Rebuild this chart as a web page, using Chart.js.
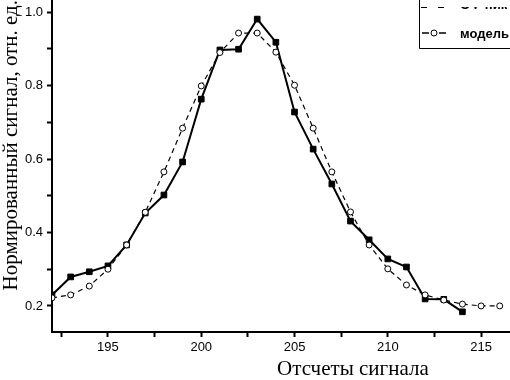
<!DOCTYPE html>
<html>
<head>
<meta charset="utf-8">
<script src="https://cdn.jsdelivr.net/npm/chart.js@4.4.1/dist/chart.umd.min.js"></script>
<style>
  body { margin: 0; background: #fff; }
  canvas { display: block; }
</style>
</head>
<body>
<canvas id="chart" width="510" height="380"></canvas>
<script>
// отсчеты и значения
const samples = [192, 193, 194, 195, 196, 197, 198, 199, 200, 201, 202, 203, 204,
                 205, 206, 207, 208, 209, 210, 211, 212, 213, 214, 215, 216];
const peakValues = [0.230, 0.279, 0.293, 0.309, 0.366, 0.453, 0.502, 0.592, 0.763, 0.897, 0.899, 0.981, 0.918,
                    0.728, 0.627, 0.532, 0.431, 0.380, 0.328, 0.306, 0.219, 0.218, 0.184, null, null];
const modelValues = [0.222, 0.230, 0.254, 0.300, 0.366, 0.455, 0.565, 0.684, 0.799, 0.890, 0.943, 0.943, 0.891,
                     0.801, 0.684, 0.565, 0.456, 0.366, 0.301, 0.257, 0.230, 0.216, 0.205, 0.200, 0.200];
const xTicks = [192.5, 195, 197.5, 200, 202.5, 205, 207.5, 210, 212.5, 215];
const yTicks = [0.2, 0.3, 0.4, 0.5, 0.6, 0.7, 0.8, 0.9, 1.0];
const peakLabel = 'ОФ пик';
const modelLabel = 'модель';
const xTitle = 'Отсчеты сигнала';
const yTitle = 'Нормированный сигнал, отн. ед.';

function toPoints(values) {
  return samples.map((x, i) => ({ x: x, y: values[i] }));
}

const tickFont = { family: 'Liberation Sans', size: 13 };

// легенда в правом верхнем углу (верх обрезан, как на исходнике)
const legendBox = {
  id: 'legendBox',
  afterDraw(chart) {
    const ctx = chart.ctx;
    const left = 419, bottom = 48;
    ctx.save();
    ctx.strokeStyle = '#000';
    ctx.lineWidth = 1;
    ctx.beginPath();
    ctx.moveTo(left + 0.5, 0);
    ctx.lineTo(left + 0.5, bottom + 0.5);
    ctx.lineTo(chart.width, bottom + 0.5);
    ctx.stroke();

    ctx.font = 'bold 13px "Liberation Sans"';
    ctx.textBaseline = 'middle';
    ctx.fillStyle = '#000';

    // второй элемент - модель
    let y = 33;
    ctx.lineWidth = 1.5;
    ctx.beginPath();
    ctx.moveTo(422, y); ctx.lineTo(429, y);
    ctx.moveTo(439, y); ctx.lineTo(446, y);
    ctx.stroke();
    ctx.beginPath();
    ctx.arc(434, y, 3, 0, 2 * Math.PI);
    ctx.fillStyle = '#fff';
    ctx.fill();
    ctx.lineWidth = 1;
    ctx.stroke();
    ctx.fillStyle = '#000';
    ctx.fillText(modelLabel, 460, y + 1);

    // первый элемент - видна только нижняя часть
    ctx.beginPath();
    ctx.rect(left + 1, 7, chart.width - left, 10);
    ctx.clip();
    y = 5;
    ctx.lineWidth = 2;
    ctx.beginPath();
    ctx.moveTo(421, y + 2); ctx.lineTo(427, y + 2);
    ctx.moveTo(438, y + 2); ctx.lineTo(444, y + 2);
    ctx.stroke();
    ctx.fillText(peakLabel, 460, y);
    ctx.restore();
  }
};

// подписи осей: X смещена вправо, Y прижата к верху
const axisTitles = {
  id: 'axisTitles',
  afterDraw(chart) {
    const ctx = chart.ctx;
    const area = chart.chartArea;
    ctx.save();
    ctx.font = '21px "Liberation Serif"';
    ctx.fillStyle = '#000';
    ctx.textAlign = 'center';
    ctx.textBaseline = 'alphabetic';
    ctx.fillText(xTitle, area.left + (area.right - area.left) * 0.657, 375);

    ctx.translate(11, 0);
    ctx.rotate(-Math.PI / 2);
    ctx.textAlign = 'right';
    ctx.textBaseline = 'middle';
    ctx.fillText(yTitle, 0, 0);
    ctx.restore();
  }
};

const chart = new Chart(document.getElementById('chart').getContext('2d'), {
  type: 'line',
  data: {
    datasets: [
      {
        label: modelLabel,
        data: toPoints(modelValues),
        borderColor: '#000',
        borderWidth: 1.2,
        borderDash: [5, 4],
        pointStyle: 'circle',
        pointRadius: 3,
        pointBorderWidth: 1,
        pointBackgroundColor: '#fff',
        pointBorderColor: '#000',
        tension: 0
      },
      {
        label: peakLabel,
        data: toPoints(peakValues),
        borderColor: '#000',
        borderWidth: 2,
        pointStyle: 'rect',
        pointRadius: 4,
        pointBorderWidth: 1,
        pointBackgroundColor: '#000',
        pointBorderColor: '#000',
        spanGaps: false,
        tension: 0
      }
    ]
  },
  options: {
    responsive: false,
    animation: false,
    layout: { padding: 0, autoPadding: false },
    plugins: {
      legend: { display: false },
      tooltip: { enabled: false }
    },
    scales: {
      x: {
        type: 'linear',
        min: 192,
        max: 216.55,
        afterFit: s => { s.height = 48; s.paddingLeft = 0; s.paddingRight = 0; },
        afterBuildTicks: s => { s.ticks = xTicks.map(v => ({ value: v })); },
        ticks: {
          callback: v => (v % 5 === 0 ? String(v) : ''),
          font: tickFont,
          color: '#000',
          padding: 3,
          maxRotation: 0,
          autoSkip: false
        },
        grid: { drawOnChartArea: false, tickLength: 5, tickColor: '#000', tickWidth: 2 },
        border: { color: '#000', width: 2 }
      },
      y: {
        min: 0.129,
        max: 1.033,
        afterFit: s => { s.width = 52; s.paddingTop = 0; s.paddingBottom = 0; },
        afterBuildTicks: s => { s.ticks = yTicks.map(v => ({ value: v })); },
        ticks: {
          callback: v => (Math.round(v * 10) % 2 === 0 ? v.toFixed(1) : ''),
          font: tickFont,
          color: '#000',
          padding: 4,
          autoSkip: false
        },
        grid: { drawOnChartArea: false, tickLength: 5, tickColor: '#000', tickWidth: 2 },
        border: { color: '#000', width: 2 }
      }
    }
  },
  plugins: [legendBox, axisTitles]
});
</script>
</body>
</html>
